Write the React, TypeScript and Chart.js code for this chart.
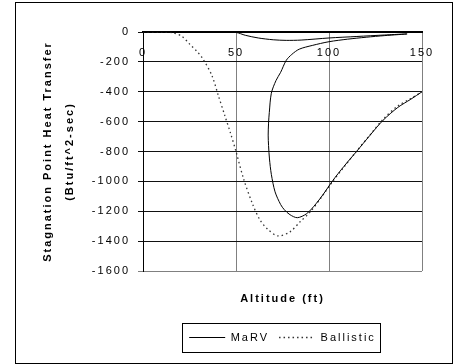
import React, { useEffect, useRef } from 'react';
import { Chart, registerables } from 'chart.js';

Chart.register(...registerables);
Chart.defaults.font.family = '"Liberation Sans", Arial, sans-serif';
Chart.defaults.font.size = 11;
Chart.defaults.color = '#000';

const seriesNames = ['MaRV', 'Ballistic'];
const xAxisTitle = 'Altitude (ft)';
const yAxisTitle = ['Stagnation Point Heat Transfer', '(Btu/ft^2-sec)'];
const xMin = 0;
const xMax = 150;
const xStep = 50;
const yMin = -1600;
const yMax = 0;
const yStep = 200;

const marvAltitude = [150, 144, 137, 129, 122, 115, 108, 102, 97, 93, 88, 83, 79, 76, 74, 71, 69, 68, 67.5, 67.3, 67.5, 67.9, 69, 71.5, 74, 77, 80, 84, 91, 100, 110, 120, 130, 142, 130, 115, 100, 85, 77, 70, 62, 55, 50, 40, 20, 0];
const marvHeat = [-400, -450, -505, -592, -692, -797, -900, -995, -1085, -1150, -1216, -1243, -1223, -1190, -1155, -1070, -953, -850, -760, -690, -610, -540, -410, -325, -270, -190, -150, -115, -90, -65, -48, -35, -24, -13, -20, -30, -40, -54, -56, -52, -40, -22, -3, 0, 0, 0];

const ballisticAltitude = [0, 10, 16, 21, 25, 29, 32, 37, 40.5, 44, 47, 50, 54, 59, 63, 67, 72.5, 79, 84.5, 90, 97, 102, 108, 115, 122, 129, 137, 144, 150];
const ballisticHeat = [0, -1, -5, -30, -80, -130, -176, -290, -425, -560, -675, -800, -980, -1155, -1260, -1320, -1365, -1338, -1270, -1203, -1088, -1000, -905, -795, -690, -585, -495, -445, -400];

const spacingPlugin = {
  id: 'letterSpacing',
  beforeLayout(chart: any) {
    chart.ctx.letterSpacing = '2px';
  },
  beforeDraw(chart: any) {
    chart.ctx.letterSpacing = '2px';
  },
};

const framePlugin = {
  id: 'frames',
  afterDraw(chart: any) {
    const ctx = chart.ctx;
    ctx.save();
    ctx.strokeStyle = '#000';
    ctx.lineWidth = 1;
    ctx.setLineDash([]);
    ctx.strokeRect(15.5, 2.5, 437, 361);
    const lg = chart.legend;
    if (lg && lg.legendHitBoxes && lg.legendHitBoxes.length) {
      const hb = lg.legendHitBoxes;
      const left = Math.min(...hb.map((h: any) => h.left));
      const right = Math.max(...hb.map((h: any) => h.left + h.width));
      const cy = hb[0].top + hb[0].height / 2;
      ctx.strokeRect(Math.round(left - 7) + 0.5, Math.round(cy - 15) + 0.5, Math.round(right - left + 11), 29);
    }
    ctx.restore();
  },
};

export default function App() {
  const ref = useRef<HTMLCanvasElement | null>(null);
  useEffect(() => {
    if (!ref.current) return;
    const chart = new Chart(ref.current, {
      type: 'scatter',
      data: {
        datasets: [
          {
            label: seriesNames[0],
            data: marvAltitude.map((x, i) => ({ x, y: marvHeat[i] })),
            borderColor: '#000',
            backgroundColor: '#000',
            borderWidth: 1,
            pointRadius: 0,
            showLine: true,
            tension: 0.3,
            fill: false,
          },
          {
            label: seriesNames[1],
            data: ballisticAltitude.map((x, i) => ({ x, y: ballisticHeat[i] })),
            borderColor: '#333',
            backgroundColor: '#333',
            borderWidth: 1.3,
            borderDash: [1.5, 3],
            pointRadius: 0,
            showLine: true,
            tension: 0.3,
            fill: false,
          },
        ],
      },
      options: {
        responsive: false,
        animation: false,
        layout: { padding: { left: 37, right: 38, top: 32, bottom: 11 } },
        plugins: {
          legend: {
            position: 'bottom',
            fullSize: false,
            labels: {
              usePointStyle: true,
              pointStyle: 'line',
              pointStyleWidth: 36,
              boxHeight: 11,
              color: '#000',
              font: { size: 11 },
              padding: 10,
              generateLabels: (c: any) => {
                const items = (Chart.defaults.plugins.legend.labels as any).generateLabels(c);
                return items.map((it: any, i: number) => {
                  const ds: any = c.data.datasets[i];
                  return {
                    ...it,
                    lineDash: ds.borderDash || [],
                    lineWidth: ds.borderWidth,
                    strokeStyle: ds.borderColor,
                    fillStyle: ds.borderColor,
                    pointStyle: 'line',
                  };
                });
              },
            },
          },
          tooltip: { enabled: false },
        },
        scales: {
          x: {
            type: 'linear',
            position: { y: 0 },
            min: xMin,
            max: xMax,
            ticks: { stepSize: xStep, padding: 14, color: '#000', font: { size: 11 }, callback: (v: any) => String(v) },
            grid: { color: '#808080', drawTicks: false, lineWidth: 1 },
            border: { display: true, color: '#000', width: 2 },
          },
          x2: {
            type: 'linear',
            position: 'bottom',
            min: xMin,
            max: xMax,
            grid: { display: false },
            border: { display: false },
            ticks: { display: false },
            title: {
              display: true,
              text: xAxisTitle,
              color: '#000',
              font: { size: 11, weight: 'bold' },
              padding: { top: 0, bottom: 16 },
            },
            afterFit: (s: any) => {
              s.height = 51;
            },
          },
          y: {
            type: 'linear',
            position: 'left',
            min: yMin,
            max: yMax,
            ticks: { stepSize: yStep, padding: 8, color: '#000', font: { size: 11 }, callback: (v: any) => String(v) },
            grid: {
              color: (c: any) => (c.tick && c.tick.value === yMin ? '#808080' : '#111'),
              tickLength: 5,
            },
            border: { color: '#000', width: 1 },
            title: {
              display: true,
              text: yAxisTitle,
              color: '#000',
              font: { size: 11, weight: 'bold', lineHeight: 2 },
              padding: { top: 0, bottom: 0 },
            },
            afterFit: (s: any) => {
              s.width = 106;
            },
          },
        },
      } as any,
      plugins: [spacingPlugin, framePlugin],
    });
    return () => chart.destroy();
  }, []);
  return (
    <div style={{ position: 'absolute', left: 0, top: 0, width: 460, height: 364, background: '#fff' }}>
      <canvas ref={ref} width={460} height={364} style={{ display: 'block' }} />
    </div>
  );
}
